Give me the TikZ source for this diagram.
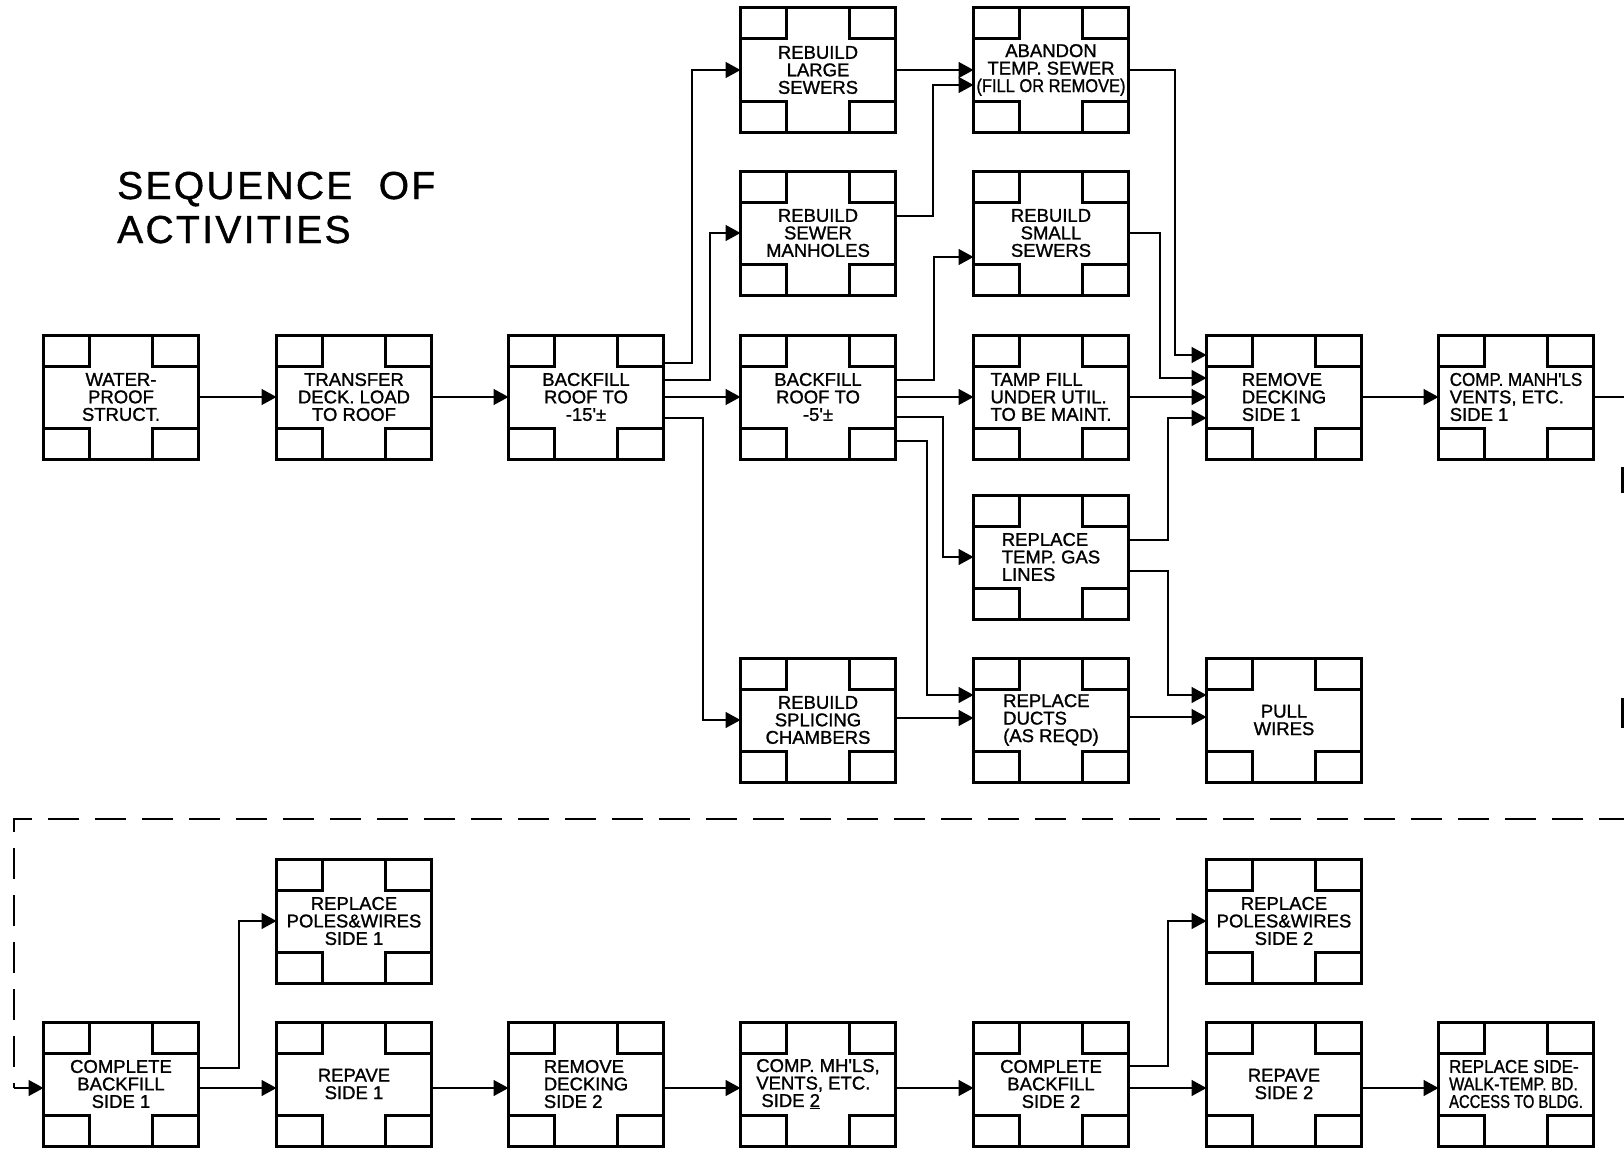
\documentclass[tikz,border=0pt]{standalone}
\usepackage{fontspec}
\usepackage{graphicx}
\setmainfont{Liberation Sans}
\newfontfamily\lab[FakeBold=1.2]{Liberation Sans}
\newfontfamily\ttl[LetterSpace=6,FakeBold=1]{Liberation Sans}
\usetikzlibrary{arrows.meta,calc}
\newcommand{\sqz}[2]{\scalebox{#1}[1]{#2}}
\tikzset{
  act/.style={draw, line width=3pt, minimum width=155pt, minimum height=124pt,
    inner sep=0pt, outer sep=0pt, align=center,
    font=\lab\fontsize{18.5}{17.5}\selectfont,
    path picture={
      \draw[line width=3pt] (path picture bounding box.north west) rectangle ++(46pt,-31pt);
      \draw[line width=3pt] (path picture bounding box.north east) rectangle ++(-46pt,-31pt);
      \draw[line width=3pt] (path picture bounding box.south west) rectangle ++(46pt,31pt);
      \draw[line width=3pt] (path picture bounding box.south east) rectangle ++(-46pt,31pt);
    }},
  actl/.style={act, align=left},
  conn/.style={line width=1.5pt, -{Triangle[length=15pt,width=16pt]}},
  plainline/.style={line width=1.5pt},
  retline/.style={line width=2pt, dash pattern=on 31pt off 16pt},
  titletext/.style={anchor=base west, inner sep=0pt, font=\ttl\fontsize{39}{44}\selectfont},
}
\begin{document}
\begin{tikzpicture}[x=1pt,y=-1pt]
\useasboundingbox (0,0) rectangle (1624,1148);
\clip (0,0) rectangle (1624,1148);

% title
\node[titletext] (t1) at (117,199) {SEQUENCE\ \ OF};
\node[titletext] (t2) at (117,243) {ACTIVITIES};

% main row
\node[act] (wp)   at (121,397) {WATER-\\PROOF\\STRUCT.};
\node[act] (tr)   at (354,397) {TRANSFER\\DECK. LOAD\\TO ROOF};
\node[act] (bf15) at (586,397) {BACKFILL\\ROOF TO\\-15'±};
\node[act] (bf5)  at (818,397) {BACKFILL\\ROOF TO\\-5'±};
\node[actl] (tamp) at (1051,397) {TAMP FILL\\UNDER UTIL.\\TO BE MAINT.};
\node[actl] (rd1)  at (1284,397) {REMOVE\\DECKING\\SIDE 1};
\node[actl] (comp1) at (1516,397) {\sqz{0.92}{COMP. MANH'LS}\\VENTS, ETC.\\SIDE 1};

% upper rows
\node[act] (large) at (818,70) {REBUILD\\LARGE\\SEWERS};
\node[act] (aband) at (1051,70) {ABANDON\\TEMP. SEWER\\\sqz{0.89}{(FILL OR REMOVE)}};
\node[act] (manh)  at (818,233) {REBUILD\\SEWER\\MANHOLES};
\node[act] (small) at (1051,233) {REBUILD\\SMALL\\SEWERS};

% lower rows
\node[actl] (gas)    at (1051,557) {REPLACE\\TEMP. GAS\\LINES};
\node[act] (splice) at (818,720) {REBUILD\\SPLICING\\CHAMBERS};
\node[actl] (ducts)  at (1051,720) {REPLACE\\DUCTS\\(AS REQD)};
\node[act] (pull)   at (1284,720) {PULL\\WIRES};

% bottom part
\node[act] (poles1) at (354,921) {REPLACE\\POLES\&WIRES\\SIDE 1};
\node[act] (poles2) at (1284,921) {REPLACE\\POLES\&WIRES\\SIDE 2};
\node[act] (cb1)   at (121,1084) {COMPLETE\\BACKFILL\\SIDE 1};
\node[act] (rep1)  at (354,1084) {REPAVE\\SIDE 1};
\node[actl] (rd2)   at (586,1084) {REMOVE\\DECKING\\SIDE 2};
\node[actl] (comp2) at (818,1084) {COMP. MH'LS,\\VENTS, ETC.\\\ SIDE \underline{2}};
\node[act] (cb2)   at (1051,1084) {COMPLETE\\BACKFILL\\SIDE 2};
\node[act] (rep2)  at (1284,1084) {REPAVE\\SIDE 2};
\node[actl] (sw)    at (1516,1084) {\sqz{0.92}{REPLACE SIDE-}\\\sqz{0.87}{WALK-TEMP. BD.}\\\sqz{0.8}{ACCESS TO BLDG.}};

% connectors, main row
\draw[conn] (wp.east) -- (tr.west);
\draw[conn] (tr.east) -- (bf15.west);
\draw[conn] (bf15.east |- 0,363) -| (692,70) -- (large.west);
\draw[conn] (bf15.east |- 0,380) -| (710,233) -- (manh.west);
\draw[conn] (bf15.east) -- (bf5.west);
\draw[conn] (bf15.east |- 0,418) -| (703,720) -- (splice.west);

\draw[conn] (bf5.east |- 0,380) -| (934,257) -- (small.west |- 0,257);
\draw[conn] (bf5.east) -- (tamp.west);
\draw[conn] (bf5.east |- 0,417) -| (943,557) -- (gas.west);
\draw[conn] (bf5.east |- 0,441) -| (927,695) -- (ducts.west |- 0,695);

\draw[conn] (large.east) -- (aband.west);
\draw[conn] (manh.east |- 0,216) -| (933,85) -- (aband.west |- 0,85);
\draw[conn] (splice.east |- 0,718) -- (ducts.west |- 0,718);

\draw[conn] (aband.east) -| (1175,355) -- (rd1.west |- 0,355);
\draw[conn] (small.east) -| (1160,378) -- (rd1.west |- 0,378);
\draw[conn] (tamp.east) -- (rd1.west);
\draw[conn] (gas.east |- 0,540) -| (1168,418) -- (rd1.west |- 0,418);
\draw[conn] (gas.east |- 0,571) -| (1168,695) -- (pull.west |- 0,695);
\draw[conn] (ducts.east |- 0,717) -- (pull.west |- 0,717);

\draw[conn] (rd1.east) -- (comp1.west);

% return line to lower sequence
\coordinate (redge) at (1630,397);
\coordinate (rtop) at (1622,467);
\coordinate (rbot) at (1622,819);
\coordinate (dstart) at (1630,819);
\coordinate (lcorner) at (14,819);
\coordinate (lbot) at (14,1088);
\draw[plainline] (comp1.east) -- (redge);
\draw[line width=3pt, dash pattern=on 26pt off 205pt on 30pt off 200pt] (rtop) -- (rbot);
\draw[retline] (dstart) -- (lcorner) -- (lbot);
\draw[conn] (lbot) -- (cb1.west |- lbot);

% bottom connectors
\draw[conn] (cb1.east |- 0,1068) -| (239,921) -- (poles1.west);
\draw[conn] (cb1.east |- 0,1088) -- (rep1.west |- 0,1088);
\draw[conn] (rep1.east |- 0,1088) -- (rd2.west |- 0,1088);
\draw[conn] (rd2.east |- 0,1088) -- (comp2.west |- 0,1088);
\draw[conn] (comp2.east |- 0,1088) -- (cb2.west |- 0,1088);
\draw[conn] (cb2.east |- 0,1066) -| (1168,921) -- (poles2.west);
\draw[conn] (cb2.east |- 0,1088) -- (rep2.west |- 0,1088);
\draw[conn] (rep2.east |- 0,1088) -- (sw.west |- 0,1088);
\end{tikzpicture}
\end{document}
